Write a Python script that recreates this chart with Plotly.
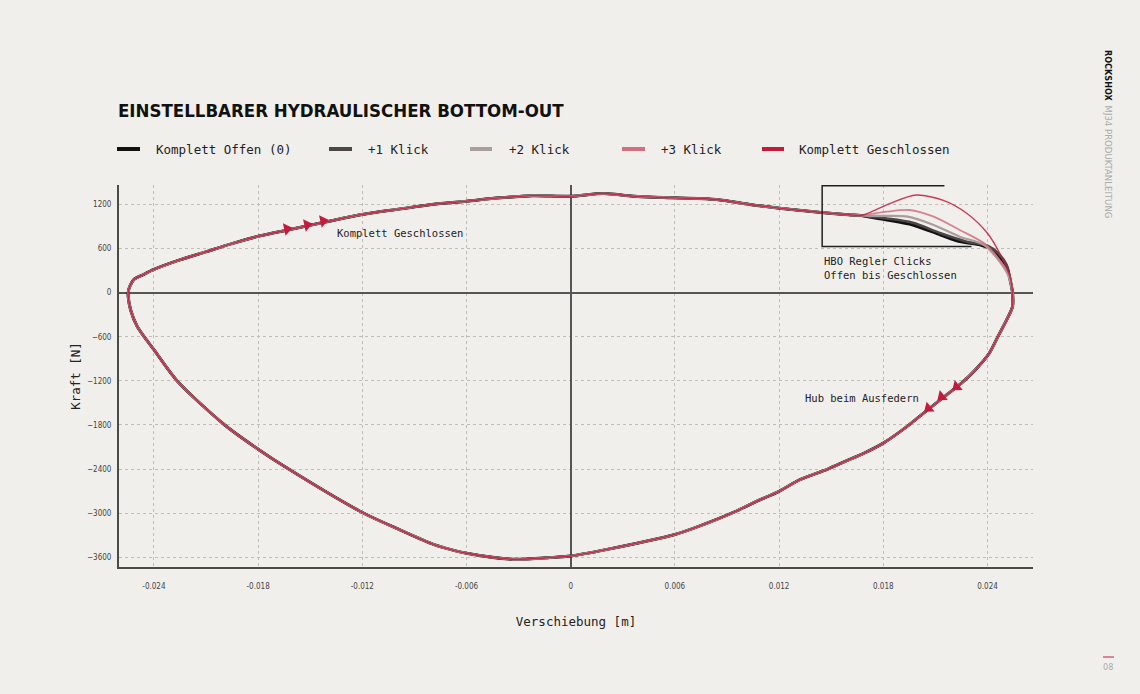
import plotly.graph_objects as go

# ---------------- data ----------------
# common compression branch (upper), left -> right, displacement [m], force [N]
upper_x = [-0.02548, -0.0254, -0.02515, -0.02467, -0.0240, -0.02256, -0.02103, -0.0195, -0.0180,
           -0.01622, -0.01413, -0.0120, -0.0098, -0.0080, -0.0060, -0.0041, -0.0022, 0.0,
           0.0019, 0.0036, 0.0060, 0.0084, 0.0103, 0.0120, 0.0143, 0.0160, 0.0167]
upper_y = [0, 81, 180, 239, 316, 442, 555, 668, 767,
           857, 961, 1065, 1140, 1200, 1245, 1290, 1320, 1313,
           1349, 1313, 1290, 1268, 1200, 1150, 1095, 1060, 1050]

# HBO region, one tail per click setting
tail_open_x = [0.0172, 0.0182, 0.0197, 0.0213, 0.0224, 0.0236, 0.0243, 0.0251, 0.0253, 0.02544]
tail_open_y = [1030, 990, 921, 785, 694, 649, 581, 354, 173, 0]
tail_1_x = [0.0172, 0.0182, 0.0197, 0.0213, 0.0228, 0.0240, 0.0246, 0.0251, 0.0253, 0.02544]
tail_1_y = [1035, 1010, 952, 808, 694, 640, 540, 380, 190, 0]
tail_2_x = [0.0172, 0.0182, 0.0194, 0.0209, 0.0224, 0.0238, 0.0247, 0.0252, 0.02544]
tail_2_y = [1045, 1044, 1034, 921, 762, 649, 422, 230, 0]
tail_3_x = [0.0172, 0.0182, 0.0195, 0.0209, 0.0224, 0.0238, 0.0247, 0.0253, 0.02544]
tail_3_y = [1066, 1102, 1125, 1034, 853, 672, 445, 218, 0]
tail_closed_x = [0.0172, 0.0184, 0.0199, 0.0215, 0.0228, 0.0240, 0.0247, 0.0253, 0.02544]
tail_closed_y = [1089, 1216, 1329, 1252, 1080, 808, 536, 218, 0]

# common rebound branch (lower), right -> left
lower_x = [0.02544, 0.0251, 0.0246, 0.0241, 0.0233, 0.0225, 0.0214, 0.0202, 0.0192, 0.0180,
           0.0169, 0.0158, 0.0148, 0.0132, 0.0120, 0.0107, 0.0094, 0.0074, 0.0060, 0.0021,
           0.0, -0.0012, -0.0033, -0.0060, -0.0069, -0.0079, -0.0098, -0.0120, -0.01624, -0.0180,
           -0.01992, -0.02266, -0.0240, -0.02496, -0.02534, -0.02548, -0.02548]
lower_y = [-190, -371, -598, -824, -1050, -1232, -1435, -1662, -1850, -2047,
           -2183, -2296, -2400, -2544, -2702, -2838, -2986, -3176, -3289, -3492,
           -3582, -3604, -3627, -3545, -3495, -3424, -3230, -2990, -2400, -2129,
           -1800, -1200, -776, -460, -235, -54, 0]

series_names = ["Komplett Offen (0)", "+1 Klick", "+2 Klick", "+3 Klick", "Komplett Geschlossen"]
tails = [(tail_open_x, tail_open_y), (tail_1_x, tail_1_y), (tail_2_x, tail_2_y),
         (tail_3_x, tail_3_y), (tail_closed_x, tail_closed_y)]

# direction arrows
arrow_up_x = [-0.01634, -0.01518, -0.01426]
arrow_up_y = [867, 921, 976]
arrow_dn_x = [0.02222, 0.02136, 0.0206]
arrow_dn_y = [-1279, -1415, -1573]

x_ticks = [-0.024, -0.018, -0.012, -0.006, 0, 0.006, 0.012, 0.018, 0.024]
x_ticklabels = ["-0.024", "-0.018", "-0.012", "-0.006", "0", "0.006", "0.012", "0.018", "0.024"]
y_ticks = [1200, 600, 0, -600, -1200, -1800, -2400, -3000, -3600]

# ---------------- styling ----------------
colors = ["#111111", "#4d4647", "#a89e9f", "#d27080", "#c41a3c"]
widths = [3.0, 2.6, 2.2, 1.8, 1.4]
opac = [1.0, 1.0, 1.0, 0.85, 0.85]
BG = "#f1efeb"
MONO = "DejaVu Sans Mono"
NARROW = "Liberation Sans Narrow, DejaVu Sans Condensed, sans-serif"

L, R, T, B = 119, 107, 185, 127
W, H = 1140, 694
PW, PH = W - L - R, H - T - B


def px(xp):
    return (xp - L) / PW


def py(yp):
    return (H - B - yp) / PH


fig = go.Figure()

for name, (tx, ty), c, w, o in zip(series_names, tails, colors, widths, opac):
    fig.add_trace(go.Scatter(
        x=upper_x + tx + lower_x, y=upper_y + ty + lower_y,
        mode="lines", name=name, showlegend=False, opacity=o,
        line=dict(color=c, width=w, shape="spline", smoothing=0.8),
        hoverinfo="skip"))

fig.add_trace(go.Scatter(x=arrow_up_x, y=arrow_up_y, mode="markers", showlegend=False,
                         marker=dict(symbol="triangle-up", size=11, angle=78, color="#c41a3c")))
fig.add_trace(go.Scatter(x=arrow_dn_x, y=arrow_dn_y, mode="markers", showlegend=False,
                         marker=dict(symbol="triangle-up", size=11, angle=231, color="#c41a3c")))

# HBO bracket
fig.add_shape(type="path", xref="x", yref="y",
              path="M 0.02152,1455 L 0.01448,1455 L 0.01448,630 L 0.02308,630",
              line=dict(color="#222", width=1.5))

annos = [
    dict(x=-0.01357, y=812, xref="x", yref="y", text="Komplett Geschlossen", xanchor="left",
         yanchor="middle", showarrow=False, font=dict(family=MONO, size=10.5, color="#222")),
    dict(x=0.01337, y=-1437, xref="x", yref="y", text="Hub beim Ausfedern", xanchor="left",
         yanchor="middle", showarrow=False, font=dict(family=MONO, size=10.5, color="#222")),
    dict(x=0.01448, y=540, xref="x", yref="y", text="HBO Regler Clicks<br>Offen bis Geschlossen",
         xanchor="left", yanchor="top", align="left", showarrow=False,
         font=dict(family=MONO, size=10.5, color="#222")),
    dict(x=px(116), y=py(110), xref="paper", yref="paper", text="<b>EINSTELLBARER HYDRAULISCHER BOTTOM-OUT</b>",
         xanchor="left", yanchor="middle", showarrow=False,
         font=dict(family="DejaVu Sans Condensed", size=18.5, color="#111")),
    dict(x=px(1108), y=py(48), xref="paper", yref="paper", text="<b>ROCKSHOX</b>", textangle=90,
         xanchor="center", yanchor="top", showarrow=False,
         font=dict(family="DejaVu Sans Condensed", size=9, color="#111")),
    dict(x=px(1108), y=py(103), xref="paper", yref="paper", text="MJ34 PRODUKTANLEITUNG", textangle=90,
         xanchor="center", yanchor="top", showarrow=False,
         font=dict(family="DejaVu Sans Condensed", size=9.5, color="#aaa")),
    dict(x=px(1108), y=py(667), xref="paper", yref="paper", text="08",
         xanchor="center", yanchor="middle", showarrow=False,
         font=dict(family="DejaVu Sans Condensed", size=9, color="#aaa")),
]

leg_seg = [(117, 140), (329, 352), (470, 492), (622, 645), (762, 784)]
leg_text_x = [154, 366, 507, 659, 797]
for (a, b), tx, name, c in zip(leg_seg, leg_text_x, series_names, colors):
    fig.add_shape(type="line", xref="paper", yref="paper", x0=px(a), x1=px(b), y0=py(149), y1=py(149),
                  line=dict(color=c, width=4))
    annos.append(dict(x=px(tx), y=py(149), xref="paper", yref="paper", text=name, xanchor="left",
                      yanchor="middle", showarrow=False, font=dict(family=MONO, size=12.5, color="#222")))

# small separators on the side
fig.add_shape(type="line", xref="paper", yref="paper", x0=px(1108), x1=px(1108), y0=py(95), y1=py(100),
              line=dict(color="#999", width=1))
fig.add_shape(type="line", xref="paper", yref="paper", x0=px(1103), x1=px(1114), y0=py(657), y1=py(657),
              line=dict(color="#c41a3c", width=1))

fig.update_layout(
    width=W, height=H,
    margin=dict(l=L, r=R, t=T, b=B),
    paper_bgcolor=BG, plot_bgcolor=BG,
    annotations=annos,
    showlegend=False,
    xaxis=dict(range=[-0.02601, 0.02662], tickvals=x_ticks, ticktext=x_ticklabels,
               showgrid=True, gridcolor="#c2bdb8", griddash="dot", gridwidth=1,
               zeroline=True, zerolinecolor="#555", zerolinewidth=1.5,
               showline=True, linecolor="#4a4a4a", linewidth=2,
               ticks="", ticklabelstandoff=10,
               tickfont=dict(family=NARROW, size=8, color="#444"),
               title=dict(text="Verschiebung [m]", standoff=28,
                          font=dict(family=MONO, size=12.5, color="#222"))),
    yaxis=dict(range=[-3732, 1465], tickvals=y_ticks,
               showgrid=True, gridcolor="#c2bdb8", griddash="dot", gridwidth=1,
               zeroline=True, zerolinecolor="#555", zerolinewidth=1.5,
               showline=True, linecolor="#4a4a4a", linewidth=2,
               ticks="", ticklabelstandoff=4,
               tickfont=dict(family=NARROW, size=8, color="#444"),
               title=dict(text="Kraft [N]", standoff=4,
                          font=dict(family=MONO, size=12.5, color="#222"))),
)

fig.write_html("out.html")
